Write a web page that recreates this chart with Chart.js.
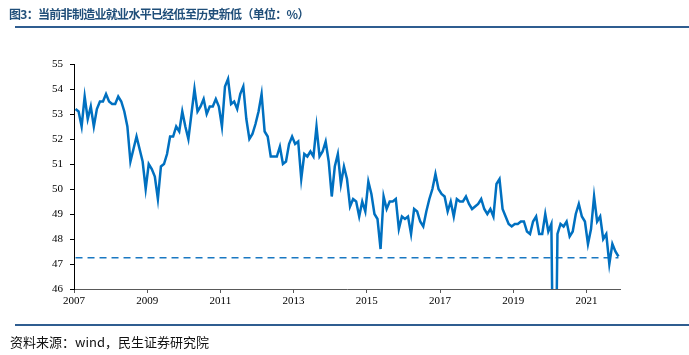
<!DOCTYPE html>
<html>
<head>
<meta charset="utf-8">
<script src="https://cdn.jsdelivr.net/npm/chart.js@4/dist/chart.umd.min.js"></script>
<style>
  html, body { margin: 0; padding: 0; background: #fff; }
  #wrap { position: relative; width: 689px; height: 355px; overflow: hidden; }
  #title { position: absolute; left: 9px; top: 6px; font-family: "Noto Sans CJK SC", sans-serif; font-weight: bold; font-size: 12px; letter-spacing: -0.7px; line-height: 16px; color: #1F4E79; white-space: nowrap; }
  #titleLine { position: absolute; left: 15px; top: 26px; width: 674px; height: 2px; background: #2F5D90; }
  #footLine { position: absolute; left: 15px; top: 324px; width: 674px; height: 2px; background: #2F5D90; }
  #foot { position: absolute; left: 10px; top: 334px; font-family: "Noto Sans CJK SC", sans-serif; font-size: 13px; line-height: 16px; color: #111; white-space: nowrap; }
  canvas { position: absolute; left: 0; top: 0; }
</style>
</head>
<body>
<div id="wrap">
  <canvas id="c" width="689" height="355"></canvas>
  <div id="title">图3：当前非制造业就业水平已经低至历史新低（单位：%）</div>
  <div id="titleLine"></div>
  <div id="footLine"></div>
  <div id="foot">资料来源：wind，民生证券研究院</div>
</div>
<script>
// Monthly series, 2007-01 .. 2021-11 (non-manufacturing PMI employment index, %)
const v2007 = [53.2, 53.1, 52.5, 53.7, 52.8, 53.3, 52.5, 53.2, 53.5, 53.5, 53.8, 53.5];
const v2008 = [53.4, 53.4, 53.7, 53.5, 53.1, 52.5, 51.1, 51.6, 52.1, 51.6, 51.1, 50.0];
const v2009 = [51.0, 50.8, 50.5, 49.6, 50.9, 51.0, 51.4, 52.1, 52.1, 52.5, 52.3, 53.1];
const v2010 = [52.5, 52.0, 53.0, 54.0, 53.1, 53.3, 53.6, 53.0, 53.3, 53.3, 53.6, 53.3];
const v2011 = [52.5, 54.1, 54.4, 53.4, 53.5, 53.2, 53.8, 54.1, 52.8, 52.0, 52.2, 52.6];
const v2012 = [53.1, 53.8, 52.3, 52.1, 51.3, 51.3, 51.3, 51.7, 51.0, 51.1, 51.8, 52.1];
const v2013 = [51.8, 51.9, 50.4, 51.4, 51.3, 51.5, 51.3, 52.5, 51.3, 51.5, 51.9, 51.1];
const v2014 = [49.7, 50.9, 51.4, 50.2, 50.9, 50.4, 49.3, 49.6, 49.5, 48.9, 49.5, 49.1];
const v2015 = [50.3, 49.8, 49.0, 48.8, 47.6, 49.7, 49.2, 49.5, 49.5, 49.6, 48.4, 48.9];
const v2016 = [48.8, 48.9, 48.2, 49.2, 49.1, 48.7, 48.5, 49.1, 49.6, 50.0, 50.6, 50.0];
const v2017 = [49.8, 49.7, 49.1, 49.5, 48.9, 49.6, 49.5, 49.5, 49.7, 49.4, 49.2, 49.3];
const v2018 = [49.4, 49.6, 49.2, 49.0, 49.2, 48.9, 50.2, 50.4, 49.2, 48.9, 48.6, 48.5];
const v2019 = [48.6, 48.6, 48.7, 48.7, 48.3, 48.2, 48.7, 48.9, 48.2, 48.2, 49.0, 48.3];
const v2020 = [48.6, 37.9, 48.2, 48.6, 48.5, 48.7, 48.1, 48.3, 49.0, 49.4, 48.9, 48.7];
const v2021 = [47.8, 48.4, 49.7, 48.7, 48.9, 48.0, 48.2, 47.0, 47.8, 47.5, 47.3];

const yearTicks = ['2007', '2009', '2011', '2013', '2015', '2017', '2019', '2021'];
const currentLevel = 47.25;   // dashed reference line (current low)

const values = [].concat(v2007, v2008, v2009, v2010, v2011, v2012, v2013, v2014,
                         v2015, v2016, v2017, v2018, v2019, v2020, v2021);
const points = values.map((v, i) => ({ x: i, y: v }));
const refLine = [{ x: 0, y: currentLevel }, { x: values.length - 1, y: currentLevel }];

const tickFont = { family: '"Liberation Serif", "Times New Roman", serif', size: 11 };

new Chart(document.getElementById('c'), {
  type: 'line',
  data: {
    datasets: [
      { data: points, borderColor: '#0070C0', borderWidth: 2.5, pointRadius: 0, tension: 0, fill: false, order: 0 },
      { data: refLine, borderColor: '#1A78C2', borderWidth: 1.6, borderDash: [7, 5], pointRadius: 0, fill: false, order: 1 }
    ]
  },
  options: {
    responsive: false,
    animation: false,
    devicePixelRatio: 1,
    layout: { padding: { top: 64, right: 69, bottom: 36, left: 0 } },
    plugins: { legend: { display: false }, tooltip: { enabled: false } },
    scales: {
      x: {
        type: 'linear',
        min: -0.5,
        max: values.length - 0.5,
        afterBuildTicks: (scale) => {
          scale.ticks = yearTicks.map((_, k) => ({ value: -0.5 + 24 * k }));
        },
        afterFit: (scale) => { scale.height = 30; },
        ticks: {
          autoSkip: false, maxRotation: 0, padding: 2, color: '#000', font: tickFont,
          callback: (value, index) => yearTicks[index]
        },
        grid: { drawOnChartArea: false, drawTicks: true, tickLength: 4, color: '#595959' },
        border: { color: '#595959', width: 1 }
      },
      y: {
        min: 46,
        max: 55,
        afterFit: (scale) => { scale.width = 74; },
        ticks: { stepSize: 1, padding: 7, color: '#000', font: tickFont },
        grid: { drawOnChartArea: false, drawTicks: true, tickLength: 4, color: '#000' },
        border: { color: '#000', width: 1 }
      }
    }
  }
});
</script>
</body>
</html>
